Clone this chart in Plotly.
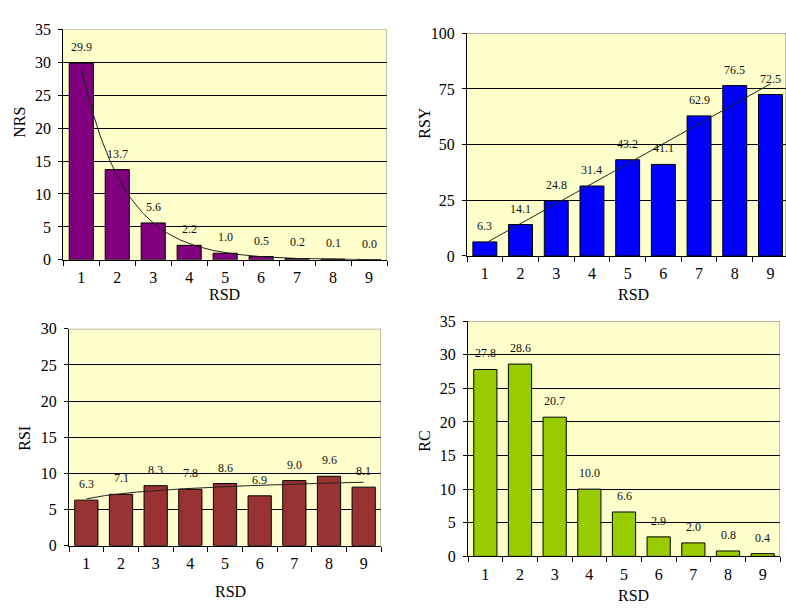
import numpy as np
import plotly.graph_objects as go

# Risk-score distribution (RSD) classes and the four indicators
rsd = [1, 2, 3, 4, 5, 6, 7, 8, 9]
nrs = [29.9, 13.7, 5.6, 2.2, 1.0, 0.5, 0.2, 0.1, 0.0]
rsy = [6.3, 14.1, 24.8, 31.4, 43.2, 41.1, 62.9, 76.5, 72.5]
rsi = [6.3, 7.1, 8.3, 7.8, 8.6, 6.9, 9.0, 9.6, 8.1]
rc = [27.8, 28.6, 20.7, 10.0, 6.6, 2.9, 2.0, 0.8, 0.4]

y_ticks_nrs = [0, 5, 10, 15, 20, 25, 30, 35]
y_ticks_rsy = [0, 25, 50, 75, 100]
y_ticks_rsi = [0, 5, 10, 15, 20, 25, 30]
y_ticks_rc = [0, 5, 10, 15, 20, 25, 30, 35]

FONT = "Liberation Serif"
W, H = 786, 613

fig = go.Figure()

# pixel boxes of each panel: (left, right, top, bottom)
panels = [
    dict(ax="", data=nrs, color="#800080", ticks=y_ticks_nrs, box=(63.3, 387, 22, 259), xmax=9.5,
         ytitle="NRS", ytpos=(20, 118), xtpos=(225, 295)),
    dict(ax="2", data=rsy, color="#0000FF", ticks=y_ticks_rsy, box=(467, 786, 26, 255),
         xmax=0.5 + (786 - 467) / 35.7, ytitle="RSY", ytpos=(425, 118), xtpos=(633, 295)),
    dict(ax="3", data=rsi, color="#993333", ticks=y_ticks_rsi, box=(69, 381, 330, 553), xmax=9.5,
         ytitle="RSI", ytpos=(25, 443), xtpos=(230, 600)),
    dict(ax="4", data=rc, color="#99CC00", ticks=y_ticks_rc, box=(468, 780, 322, 564), xmax=9.5,
         ytitle="RC", ytpos=(425, 446), xtpos=(633, 604)),
]

x_fit = np.linspace(1, 9, 200)
xs = np.array(rsd, dtype=float)

# trend lines fitted from the series
# NRS: exponential fit on positive values
pos = np.array(nrs) > 0
b1, a1 = np.polyfit(xs[pos], np.log(np.array(nrs)[pos]), 1)
trend_nrs = np.exp(a1 + b1 * x_fit)
# RSY: linear fit
b2, a2 = np.polyfit(xs, np.array(rsy), 1)
trend_rsy = a2 + b2 * x_fit
# RSI: logarithmic fit
b3, a3 = np.polyfit(np.log(xs), np.array(rsi), 1)
trend_rsi = a3 + b3 * np.log(x_fit)
trends = {"": trend_nrs, "2": trend_rsy, "3": trend_rsi}

annotations = []
shapes = []
for p in panels:
    ax = p["ax"]
    xa = "x" + ax
    ya = "y" + ax
    l, r, t, b = p["box"]
    fig.add_trace(go.Bar(
        x=rsd, y=p["data"], xaxis=xa, yaxis=ya,
        marker=dict(color=p["color"], line=dict(color="black", width=1)),
        showlegend=False, hoverinfo="x+y",
    ))
    if ax in trends:
        fig.add_trace(go.Scatter(
            x=x_fit, y=trends[ax], xaxis=xa, yaxis=ya, mode="lines",
            line=dict(color="#222222", width=1), showlegend=False, hoverinfo="skip",
        ))
    for xv, yv in zip(rsd, p["data"]):
        annotations.append(dict(
            x=xv, y=yv, xref=xa, yref=ya, text=f"{yv:.1f}", showarrow=False,
            yanchor="bottom", yshift=7, font=dict(family=FONT, size=12, color="#111111"),
        ))
    # axis titles
    annotations.append(dict(
        x=p["xtpos"][0] / W, y=1 - p["xtpos"][1] / H, xref="paper", yref="paper",
        text="RSD", showarrow=False, xanchor="center", yanchor="middle",
        font=dict(family=FONT, size=16, color="black"),
    ))
    annotations.append(dict(
        x=p["ytpos"][0] / W, y=1 - p["ytpos"][1] / H, xref="paper", yref="paper",
        text=p["ytitle"], showarrow=False, xanchor="center", yanchor="middle", textangle=-90,
        font=dict(family=FONT, size=16, color="black"),
    ))
    ymax = p["ticks"][-1]
    xmax = p["xmax"]
    # gray frame along top and right of plot area
    shapes.append(dict(type="line", xref=xa, yref=ya, x0=0.5, x1=xmax, y0=ymax, y1=ymax,
                       line=dict(color="#808080", width=1), layer="above"))
    shapes.append(dict(type="line", xref=xa, yref=ya, x0=xmax, x1=xmax, y0=0, y1=ymax,
                       line=dict(color="#808080", width=1), layer="above"))

    xdom = [l / W, min(r / W, 1.0)]
    ydom = [1 - b / H, 1 - t / H]
    fig.layout["xaxis" + ax] = dict(
        domain=xdom, anchor=ya, range=[0.5, xmax], tickvals=rsd,
        ticktext=[str(v) for v in rsd], ticks="", showgrid=False, zeroline=False,
        showline=True, linecolor="black", linewidth=1,
        tickfont=dict(family=FONT, size=16, color="black"), ticklabelstandoff=3,
        minor=dict(tickmode="array", tickvals=[v + 0.5 for v in [0] + rsd], ticks="outside",
                   ticklen=5, tickcolor="black", tickwidth=1, showgrid=False),
        fixedrange=True,
    )
    fig.layout["yaxis" + ax] = dict(
        domain=ydom, anchor=xa, range=[0, ymax], tickvals=p["ticks"], ticks="outside",
        ticklen=4, tickcolor="black", showgrid=True, gridcolor="black", gridwidth=1,
        zeroline=False, showline=True, linecolor="black", linewidth=1,
        tickfont=dict(family=FONT, size=16, color="black"), ticklabelstandoff=4,
        fixedrange=True,
    )

fig.update_layout(
    width=W, height=H, margin=dict(l=0, r=0, t=0, b=0),
    paper_bgcolor="white", plot_bgcolor="#FFFFCC",
    bargap=0.33, annotations=annotations, shapes=shapes,
)

# keep the page itself free of default body spacing
fig.write_html(
    "out.html",
    post_script="document.body.style.margin='0';document.body.style.padding='0';",
)
